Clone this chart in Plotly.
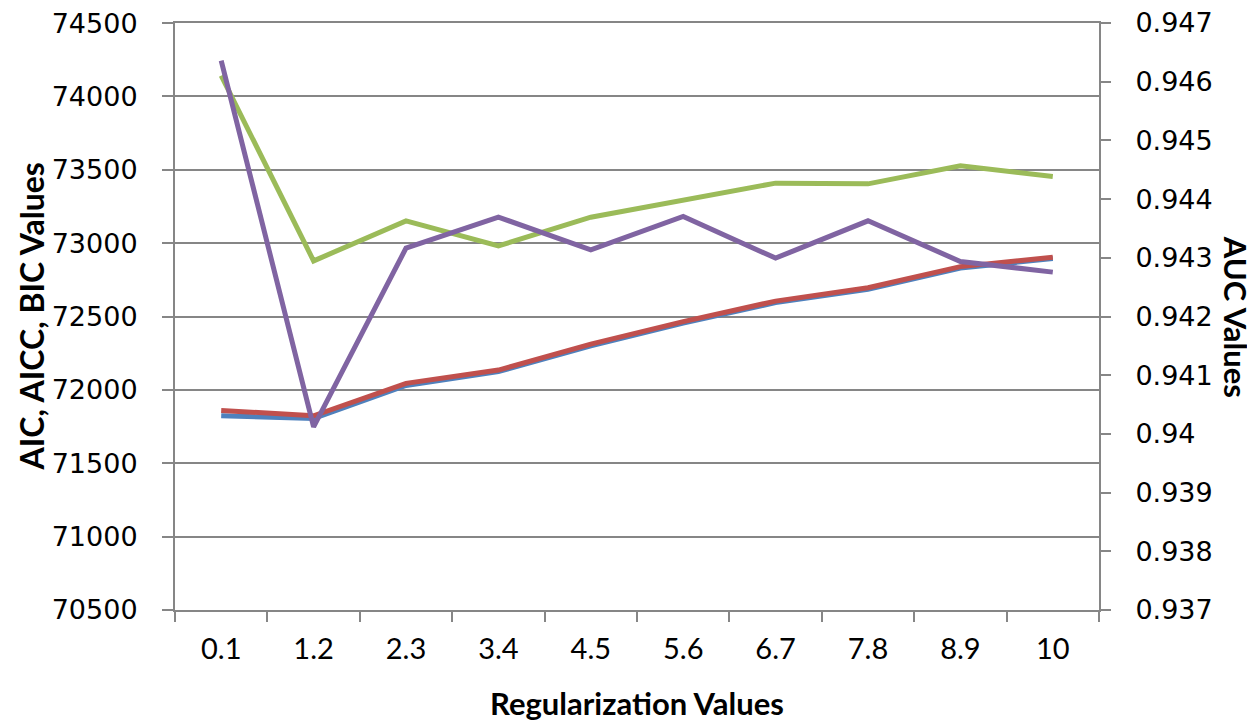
import plotly.graph_objects as go

# Data
reg_values = ["0.1", "1.2", "2.3", "3.4", "4.5", "5.6", "6.7", "7.8", "8.9", "10"]
aic = [71823, 71805, 72030, 72125, 72300, 72455, 72595, 72685, 72830, 72895]
aicc = [71860, 71823, 72044, 72135, 72312, 72465, 72605, 72696, 72840, 72904]
bic = [74141, 72879, 73152, 72981, 73177, 73293, 73409, 73404, 73527, 73454]
auc = [0.94636, 0.94012, 0.943165, 0.943693, 0.943136, 0.943704, 0.942994, 0.94363, 0.942937, 0.942756]

left_ticks = [70500, 71000, 71500, 72000, 72500, 73000, 73500, 74000, 74500]
right_ticks = [0.937, 0.938, 0.939, 0.94, 0.941, 0.942, 0.943, 0.944, 0.945, 0.946, 0.947]

grey = "#868686"

fig = go.Figure()
fig.add_trace(go.Scatter(x=reg_values, y=aic, name="AIC", mode="lines",
                         line=dict(color="#4F81BD", width=5)))
fig.add_trace(go.Scatter(x=reg_values, y=aicc, name="AICC", mode="lines",
                         line=dict(color="#C0504D", width=5)))
fig.add_trace(go.Scatter(x=reg_values, y=bic, name="BIC", mode="lines",
                         line=dict(color="#9BBB59", width=5)))
fig.add_trace(go.Scatter(x=reg_values, y=auc, name="AUC", mode="lines", yaxis="y2",
                         line=dict(color="#8064A2", width=5)))

# page body has an 8px margin, so the figure is a bit smaller than the window
fig.update_layout(
    width=1247,
    height=715,
    margin=dict(l=167, r=156, t=15, b=113),
    plot_bgcolor="white",
    paper_bgcolor="white",
    showlegend=False,
    xaxis=dict(
        type="category",
        range=[-0.5, 9.5],
        automargin=False,
        showgrid=False,
        showline=True, linecolor=grey, linewidth=2, mirror=True,
        ticks="outside", tickson="boundaries", ticklen=10, tickcolor=grey, tickwidth=2,
        tickfont=dict(family="Lato", size=29, color="black"),
        ticklabelstandoff=12,
        zeroline=False,
    ),
    yaxis=dict(
        range=[70499.5, 74500.5],
        automargin=False,
        tickvals=left_ticks,
        ticktext=[str(v) for v in left_ticks],
        showgrid=True, gridcolor=grey, gridwidth=2,
        showline=True, linecolor=grey, linewidth=2,
        ticks="outside", ticklen=11, tickcolor=grey, tickwidth=2,
        tickfont=dict(family="DejaVu Sans", size=27, color="black"),
        ticklabelstandoff=19, ticklabeloverflow="allow",
        zeroline=False,
    ),
    yaxis2=dict(
        range=[0.9369999, 0.9470001],
        automargin=False,
        tickvals=right_ticks,
        ticktext=[("%g" % v) for v in right_ticks],
        overlaying="y", side="right",
        showgrid=False,
        showline=True, linecolor=grey, linewidth=2,
        ticks="outside", ticklen=10, tickcolor=grey, tickwidth=2,
        tickfont=dict(family="DejaVu Sans", size=27, color="black"),
        ticklabelstandoff=19, ticklabeloverflow="allow",
        zeroline=False,
    ),
    annotations=[
        dict(text="<b>Regularization Values</b>", xref="paper", yref="paper",
             x=0.5, y=-0.159, xanchor="center", yanchor="middle", showarrow=False,
             font=dict(family="Lato", size=31, color="black")),
        dict(text="<b>AIC, AICC, BIC Values</b>", xref="paper", yref="paper",
             x=-0.1548, y=0.5, xanchor="center", yanchor="middle", showarrow=False,
             textangle=-90, font=dict(family="Lato", size=32, color="black")),
        dict(text="<b>AUC Values</b>", xref="paper", yref="paper",
             x=1.149, y=0.5, xanchor="center", yanchor="middle", showarrow=False,
             textangle=90, font=dict(family="Lato", size=31, color="black")),
    ],
)

fig.write_html("out.html")
